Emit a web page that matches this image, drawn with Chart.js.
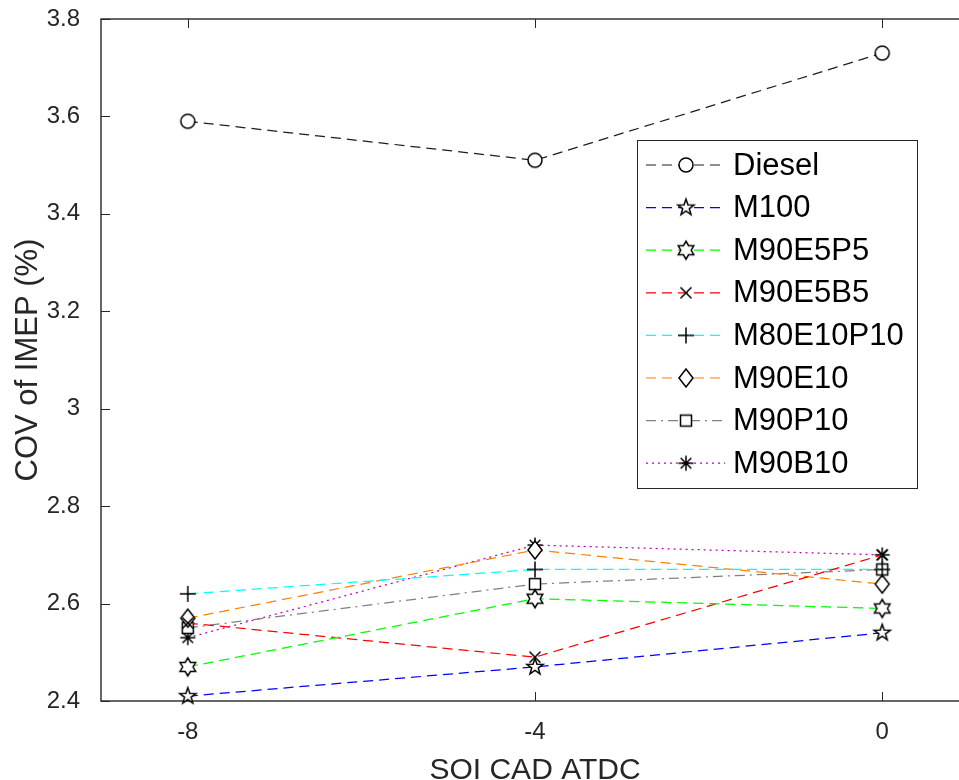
<!DOCTYPE html>
<html>
<head>
<meta charset="utf-8">
<title>COV of IMEP vs SOI</title>
<script src="https://cdn.jsdelivr.net/npm/chart.js@4/dist/chart.umd.min.js"></script>
<style>
  html, body { margin: 0; padding: 0; background: #fff; overflow: hidden; }
  #wrap { position: relative; width: 985px; height: 795px; }
</style>
</head>
<body>
<div id="wrap"><canvas id="myChart"></canvas></div>
<script>
// start of injection, crank angle degrees ATDC
const soi = [-8, -4, 0];
const xTicks = [-8, -4, 0];
const yTicks = [2.4, 2.6, 2.8, 3.0, 3.2, 3.4, 3.6, 3.8];

// COV of IMEP (%) per fuel
const diesel = [3.59, 3.51, 3.73];
const m100 = [2.41, 2.47, 2.54];
const m90e5p5 = [2.47, 2.61, 2.59];
const m90e5b5 = [2.56, 2.49, 2.70];
const m80e10p10 = [2.62, 2.67, 2.67];
const m90e10 = [2.57, 2.71, 2.64];
const m90p10 = [2.55, 2.64, 2.67];
const m90b10 = [2.53, 2.72, 2.70];

const FONT = '"Liberation Sans", Arial, Helvetica, sans-serif';
const AXIS = '#262626';

const DASH = [10, 6];
const DASHDOT = [10, 5, 2, 5];
const DOT = [2, 4];

// open markers drawn once into small canvases
function makeMarker(shape) {
  const s = 26;
  const c = document.createElement('canvas');
  c.width = s;
  c.height = s;
  const g = c.getContext('2d');
  g.translate(s / 2, s / 2);
  g.lineWidth = 1.5;
  g.strokeStyle = '#000';
  g.fillStyle = '#fff';
  g.lineJoin = 'miter';

  const star = (n, R, r) => {
    g.beginPath();
    for (let i = 0; i < n * 2; i++) {
      const a = -Math.PI / 2 + i * Math.PI / n;
      const rr = i % 2 === 0 ? R : r;
      const px = Math.cos(a) * rr;
      const py = Math.sin(a) * rr;
      if (i === 0) g.moveTo(px, py); else g.lineTo(px, py);
    }
    g.closePath();
    g.fill();
    g.stroke();
  };

  if (shape === 'circle') {
    g.beginPath();
    g.arc(0, 0, 7, 0, Math.PI * 2);
    g.fill();
    g.stroke();
  } else if (shape === 'pentagram') {
    star(5, 8.5, 3.4);
  } else if (shape === 'hexagram') {
    star(6, 9, 5.2);
  } else if (shape === 'x') {
    g.beginPath();
    g.moveTo(-5.5, -5.5); g.lineTo(5.5, 5.5);
    g.moveTo(5.5, -5.5); g.lineTo(-5.5, 5.5);
    g.stroke();
  } else if (shape === 'plus') {
    g.beginPath();
    g.moveTo(-8, 0); g.lineTo(8, 0);
    g.moveTo(0, -8); g.lineTo(0, 8);
    g.stroke();
  } else if (shape === 'diamond') {
    g.beginPath();
    g.moveTo(0, -9); g.lineTo(7, 0); g.lineTo(0, 9); g.lineTo(-7, 0);
    g.closePath();
    g.fill();
    g.stroke();
  } else if (shape === 'square') {
    g.fillRect(-5.5, -5.5, 11, 11);
    g.strokeRect(-5.5, -5.5, 11, 11);
  } else if (shape === 'asterisk') {
    g.beginPath();
    for (let i = 0; i < 4; i++) {
      const a = i * Math.PI / 4;
      g.moveTo(Math.cos(a) * 7.5, Math.sin(a) * 7.5);
      g.lineTo(-Math.cos(a) * 7.5, -Math.sin(a) * 7.5);
    }
    g.stroke();
  }
  return c;
}

const series = [
  { label: 'Diesel', values: diesel, color: '#1e1e1e', dash: DASH, marker: 'circle' },
  { label: 'M100', values: m100, color: '#0000ff', dash: DASH, marker: 'pentagram' },
  { label: 'M90E5P5', values: m90e5p5, color: '#00ff00', dash: DASH, marker: 'hexagram' },
  { label: 'M90E5B5', values: m90e5b5, color: '#ff0000', dash: DASH, marker: 'x' },
  { label: 'M80E10P10', values: m80e10p10, color: '#00ffff', dash: DASH, marker: 'plus' },
  { label: 'M90E10', values: m90e10, color: '#ff8000', dash: DASH, marker: 'diamond' },
  { label: 'M90P10', values: m90p10, color: '#808080', dash: DASHDOT, marker: 'square' },
  { label: 'M90B10', values: m90b10, color: '#bf00bf', dash: DOT, marker: 'asterisk' },
];
series.forEach((s) => { s.img = makeMarker(s.marker); });

// axes box with inward ticks, drawn under the lines
const axesBox = {
  id: 'axesBox',
  beforeDatasetsDraw(chart) {
    const { ctx, chartArea: a, scales } = chart;
    ctx.save();
    ctx.strokeStyle = AXIS;
    ctx.lineWidth = 1.4;
    ctx.strokeRect(a.left, a.top, a.right - a.left, a.bottom - a.top);
    ctx.lineWidth = 1;
    ctx.beginPath();
    xTicks.forEach((v) => {
      const px = Math.round(scales.x.getPixelForValue(v)) + 0.5;
      ctx.moveTo(px, a.bottom); ctx.lineTo(px, a.bottom - 9);
      ctx.moveTo(px, a.top); ctx.lineTo(px, a.top + 9);
    });
    yTicks.forEach((v) => {
      const py = Math.round(scales.y.getPixelForValue(v)) + 0.5;
      ctx.moveTo(a.left, py); ctx.lineTo(a.left + 9, py);
    });
    ctx.stroke();
    ctx.restore();
  },
};

// boxed legend in the upper right
const boxLegend = {
  id: 'boxLegend',
  afterDraw(chart) {
    const ctx = chart.ctx;
    const left = 637, top = 140, w = 280, h = 348;
    ctx.save();
    ctx.fillStyle = '#fff';
    ctx.fillRect(left, top, w, h);
    ctx.strokeStyle = AXIS;
    ctx.lineWidth = 1;
    ctx.strokeRect(left + 0.5, top + 0.5, w, h);
    series.forEach((s, i) => {
      const y = top + 25 + i * 42.6;
      ctx.strokeStyle = s.color;
      ctx.lineWidth = 1.2;
      ctx.setLineDash(s.dash);
      ctx.beginPath();
      ctx.moveTo(left + 9, y);
      ctx.lineTo(left + 88, y);
      ctx.stroke();
      ctx.setLineDash([]);
      ctx.drawImage(s.img, left + 49 - s.img.width / 2, y - s.img.height / 2);
      ctx.fillStyle = '#000';
      ctx.font = '31px ' + FONT;
      ctx.textBaseline = 'middle';
      ctx.textAlign = 'left';
      ctx.fillText(s.label, left + 96, y + 1);
    });
    ctx.restore();
  },
};

const ctx = document.getElementById('myChart').getContext('2d');
const myChart = new Chart(ctx, {
  type: 'line',
  data: {
    datasets: series.map((s) => ({
      label: s.label,
      data: soi.map((x, i) => ({ x: x, y: s.values[i] })),
      borderColor: s.color,
      borderWidth: 1.25,
      borderDash: s.dash,
      pointStyle: s.img,
      pointRadius: 9,
      pointHoverRadius: 9,
      tension: 0,
      fill: false,
      clip: false,
    })),
  },
  options: {
    responsive: true,
    maintainAspectRatio: false,
    animation: false,
    events: [],
    layout: {
      padding: { top: 19, right: 16, left: 0, bottom: 0 },
    },
    plugins: {
      legend: { display: false },
      tooltip: { enabled: false },
    },
    scales: {
      x: {
        type: 'linear',
        min: -9,
        max: 1,
        grid: { display: false },
        border: { display: false },
        afterBuildTicks: (scale) => {
          scale.ticks = xTicks.map((v) => ({ value: v }));
        },
        afterFit: (scale) => {
          scale.height = 94;
          scale.paddingLeft = 0;
          scale.paddingRight = 0;
        },
        ticks: {
          color: AXIS,
          padding: 9,
          maxRotation: 0,
          font: { family: FONT, size: 24 },
          callback: (v) => String(v),
        },
        title: {
          display: true,
          text: 'SOI CAD ATDC',
          color: AXIS,
          font: { family: FONT, size: 30 },
          padding: { top: 0, bottom: 6 },
        },
      },
      y: {
        min: 2.4,
        max: 3.8,
        grid: { display: false },
        border: { display: false },
        afterBuildTicks: (scale) => {
          scale.ticks = yTicks.map((v) => ({ value: v }));
        },
        afterFit: (scale) => {
          scale.width = 101;
          scale.paddingTop = 0;
          scale.paddingBottom = 0;
        },
        ticks: {
          color: AXIS,
          padding: 13,
          font: { family: FONT, size: 24 },
          callback: (v) => String(Math.round(v * 10) / 10),
        },
        title: {
          display: true,
          text: 'COV of IMEP (%)',
          color: AXIS,
          font: { family: FONT, size: 31 },
          padding: { top: 10, bottom: 0 },
        },
      },
    },
  },
  plugins: [axesBox, boxLegend],
});
</script>
</body>
</html>
